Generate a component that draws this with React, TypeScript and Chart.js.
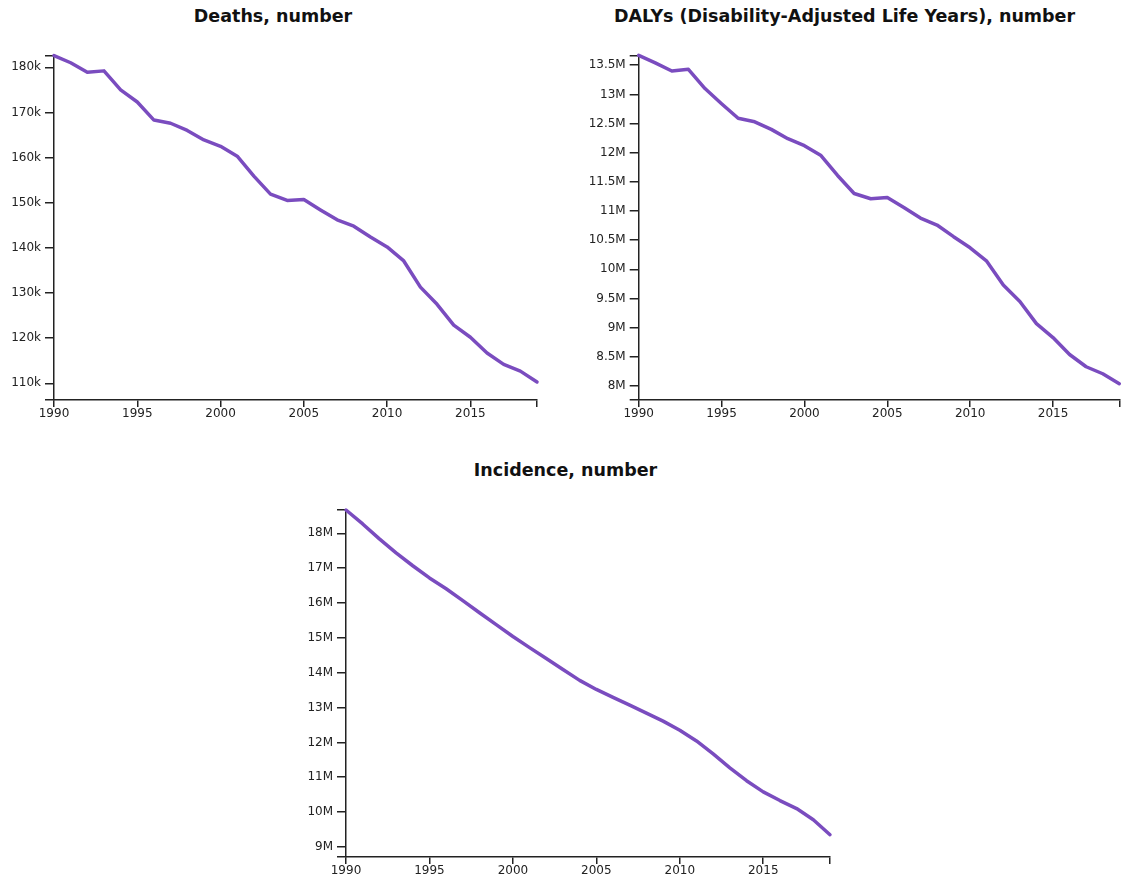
import React, { useEffect, useRef } from 'react';
import { Chart, registerables } from 'chart.js';

Chart.register(...registerables);

const years = [1990, 1991, 1992, 1993, 1994, 1995, 1996, 1997, 1998, 1999, 2000, 2001, 2002, 2003, 2004, 2005, 2006, 2007, 2008, 2009, 2010, 2011, 2012, 2013, 2014, 2015, 2016, 2017, 2018, 2019];

const deaths = [182600, 181000, 178900, 179200, 175000, 172300, 168300, 167600, 166000, 163900, 162500, 160300, 155900, 151900, 150500, 150700, 148400, 146200, 144800, 142400, 140200, 137100, 131300, 127500, 122900, 120200, 116700, 114200, 112700, 110300];

const dalys = [13670000, 13540000, 13400000, 13430000, 13100000, 12840000, 12590000, 12530000, 12400000, 12240000, 12120000, 11950000, 11610000, 11300000, 11210000, 11230000, 11060000, 10880000, 10760000, 10560000, 10370000, 10140000, 9730000, 9450000, 9070000, 8830000, 8540000, 8330000, 8210000, 8040000];

const incidence = [18670000, 18270000, 17840000, 17440000, 17070000, 16720000, 16410000, 16070000, 15720000, 15380000, 15040000, 14720000, 14410000, 14090000, 13780000, 13520000, 13290000, 13070000, 12840000, 12610000, 12350000, 12040000, 11670000, 11270000, 10900000, 10580000, 10330000, 10100000, 9780000, 9350000];

const xTicks = [1990, 1995, 2000, 2005, 2010, 2015];
const deathsTicks = [110000, 120000, 130000, 140000, 150000, 160000, 170000, 180000];
const dalysTicks = [8000000, 8500000, 9000000, 9500000, 10000000, 10500000, 11000000, 11500000, 12000000, 12500000, 13000000, 13500000];
const incidenceTicks = [9000000, 10000000, 11000000, 12000000, 13000000, 14000000, 15000000, 16000000, 17000000, 18000000];

const titles = ['Deaths, number', 'DALYs (Disability-Adjusted Life Years), number', 'Incidence, number'];

const LINE_COLOR = '#7a4cbf';
const AXIS_COLOR = '#222222';
const TICK_FONT = { family: '"DejaVu Sans", Verdana, sans-serif', size: 12 };

type Box = { l: number; r: number; t: number; b: number };

interface PanelProps {
  canvasLeft: number;
  canvasTop: number;
  canvasWidth: number;
  canvasHeight: number;
  plot: Box;
  values: number[];
  yTicks: number[];
  yMin: number;
  yMax: number;
  fmt: (v: number) => string;
}

function Panel(p: PanelProps) {
  const ref = useRef<HTMLCanvasElement | null>(null);
  useEffect(() => {
    if (!ref.current) return;
    const yWidth = p.plot.l - p.canvasLeft;
    const xHeight = p.canvasTop + p.canvasHeight - p.plot.b;
    const chart = new Chart(ref.current, {
      type: 'line',
      data: {
        datasets: [
          {
            data: years.map((y, i) => ({ x: y, y: p.values[i] })),
            borderColor: LINE_COLOR,
            borderWidth: 3.5,
            pointRadius: 0,
            fill: false,
            tension: 0,
            borderJoinStyle: 'round',
            borderCapStyle: 'round',
            clip: false as any,
          },
        ],
      },
      options: {
        animation: false,
        responsive: false,
        events: [],
        layout: {
          padding: {
            left: 0,
            right: p.canvasLeft + p.canvasWidth - p.plot.r,
            top: p.plot.t - p.canvasTop,
            bottom: 0,
          },
        },
        plugins: { legend: { display: false }, tooltip: { enabled: false }, title: { display: false } },
        scales: {
          x: {
            type: 'linear',
            min: 1990,
            max: 2019,
            afterBuildTicks: (scale: any) => {
              scale.ticks = [...xTicks, 2019].map((v) => ({ value: v }));
            },
            afterFit: (scale: any) => {
              scale.height = xHeight;
            },
            ticks: {
              autoSkip: false,
              maxRotation: 0,
              padding: 0,
              color: AXIS_COLOR,
              font: TICK_FONT,
              callback: (v: any) => (xTicks.includes(Number(v)) ? String(v) : ''),
            },
            grid: { display: true, drawOnChartArea: false, drawTicks: true, tickLength: 7, color: AXIS_COLOR, lineWidth: 1.5 },
            border: { display: true, color: AXIS_COLOR, width: 1.5 },
          },
          y: {
            type: 'linear',
            min: p.yMin,
            max: p.yMax,
            afterBuildTicks: (scale: any) => {
              scale.ticks = [p.yMin, ...p.yTicks, p.yMax].map((v) => ({ value: v }));
            },
            afterFit: (scale: any) => {
              scale.width = yWidth;
            },
            ticks: {
              autoSkip: false,
              padding: 4,
              color: AXIS_COLOR,
              font: TICK_FONT,
              callback: (v: any) => (p.yTicks.includes(Number(v)) ? p.fmt(Number(v)) : ''),
            },
            grid: { display: true, drawOnChartArea: false, drawTicks: true, tickLength: 9, color: AXIS_COLOR, lineWidth: 1.5 },
            border: { display: true, color: AXIS_COLOR, width: 1.5 },
          },
        },
      } as any,
    });
    return () => chart.destroy();
  }, []);
  return (
    <canvas
      ref={ref}
      width={p.canvasWidth}
      height={p.canvasHeight}
      style={{ position: 'absolute', left: p.canvasLeft, top: p.canvasTop, width: p.canvasWidth, height: p.canvasHeight }}
    />
  );
}

const kFmt = (v: number) => `${v / 1000}k`;
const mFmt = (v: number) => `${v / 1000000}M`;

const titleStyle = (left: number, width: number, top: number): React.CSSProperties => ({
  position: 'absolute',
  left,
  width,
  top,
  textAlign: 'center',
  fontFamily: '"DejaVu Sans", Verdana, sans-serif',
  fontWeight: 'bold',
  fontSize: 17.5,
  lineHeight: '20px',
  color: '#111',
  whiteSpace: 'nowrap',
});

export default function App() {
  return (
    <div style={{ position: 'absolute', left: 0, top: 0, width: 1124, height: 879, background: '#fff' }}>
      <div style={titleStyle(0, 546, 6)}>{titles[0]}</div>
      <div style={titleStyle(565, 559, 6)}>{titles[1]}</div>
      <div style={titleStyle(280, 571, 460)}>{titles[2]}</div>
      <Panel
        canvasLeft={0}
        canvasTop={40}
        canvasWidth={562}
        canvasHeight={380}
        plot={{ l: 54, r: 537, t: 55.3, b: 400 }}
        values={deaths}
        yTicks={deathsTicks}
        yMin={106300}
        yMax={182650}
        fmt={kFmt}
      />
      <Panel
        canvasLeft={562}
        canvasTop={40}
        canvasWidth={562}
        canvasHeight={380}
        plot={{ l: 638.7, r: 1119.3, t: 55.3, b: 400 }}
        values={dalys}
        yTicks={dalysTicks}
        yMin={7760000}
        yMax={13670000}
        fmt={mFmt}
      />
      <Panel
        canvasLeft={280}
        canvasTop={495}
        canvasWidth={580}
        canvasHeight={384}
        plot={{ l: 346, r: 830, t: 510, b: 857 }}
        values={incidence}
        yTicks={incidenceTicks}
        yMin={8710000}
        yMax={18670000}
        fmt={mFmt}
      />
    </div>
  );
}
